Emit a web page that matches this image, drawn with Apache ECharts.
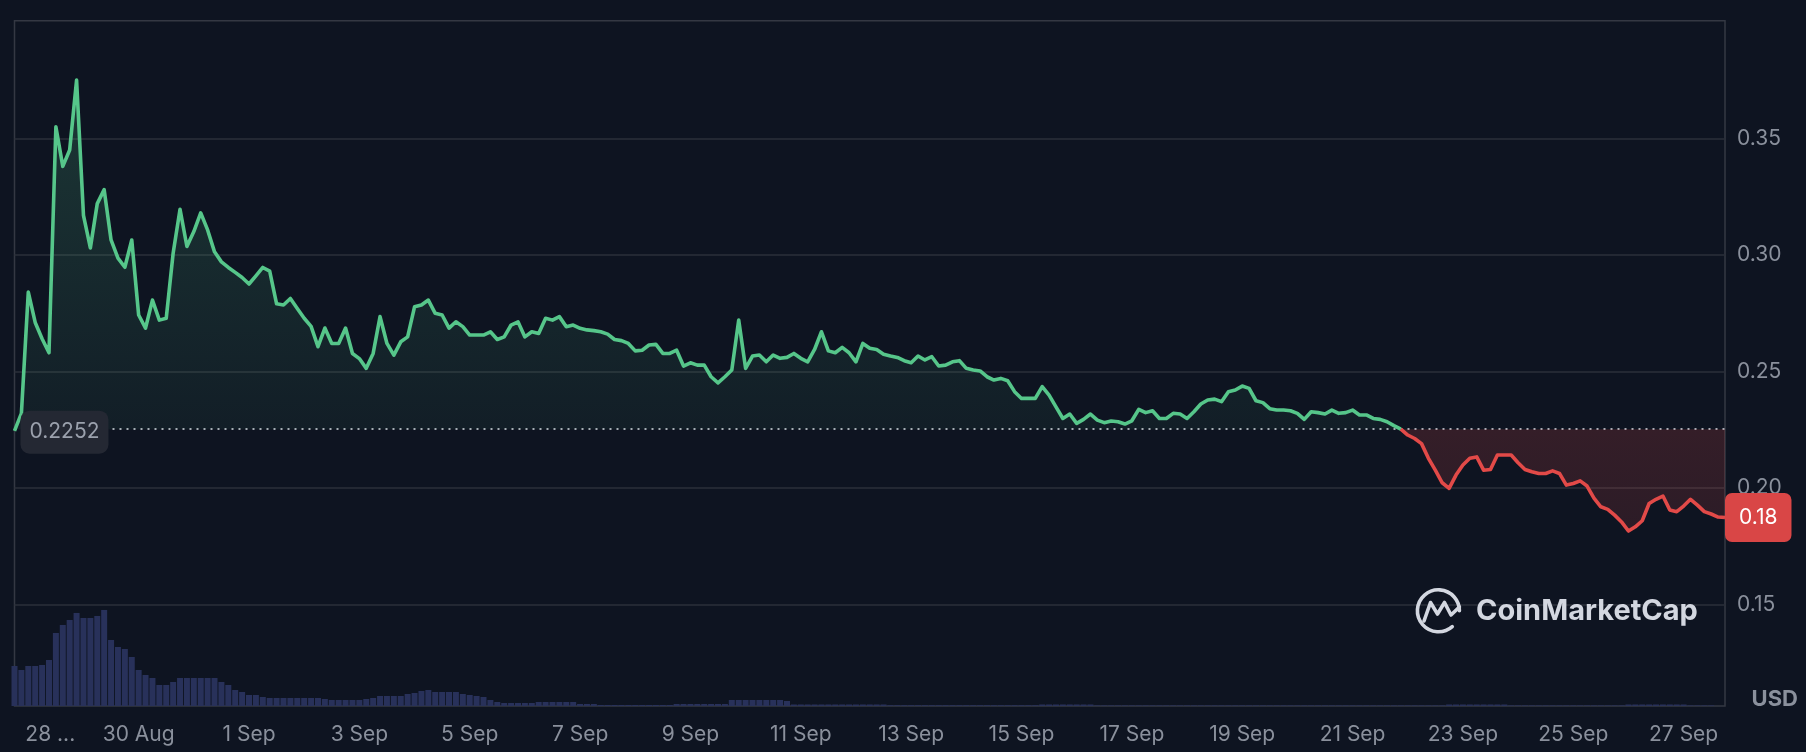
<!DOCTYPE html>
<html><head><meta charset="utf-8">
<script src="https://cdn.jsdelivr.net/npm/echarts@6/dist/echarts.min.js"></script>
<style>html,body{margin:0;padding:0;background:#0e1421;}#c{width:1806px;height:752px;}</style>
</head><body><div id="c"></div>
<script>
// time axis in days from 28 Aug 00:00; samples every 3 hours starting 27 Aug 18:00
const X_START = -0.25;
const X_STEP = 0.125;
const X_END = 30.75;
const BASELINE = 0.2252;
const Y_MIN = 0.1064;
const Y_MAX = 0.4005;
const SPLIT_INDEX = 201;

const prices = [
0.2245,0.232,0.284,0.271,0.264,0.258,0.355,0.338,0.345,0.375,
0.317,0.303,0.322,0.328,0.3064,0.2986,0.2947,0.3064,0.2742,0.2686,
0.2806,0.272,0.2728,0.3007,0.3196,0.3036,0.31,0.318,0.3107,0.3013,
0.297,0.2946,0.2925,0.2903,0.2875,0.291,0.2946,0.293,0.279,0.2785,
0.2813,0.277,0.2728,0.2693,0.2606,0.2686,0.262,0.262,0.2686,0.2577,
0.2555,0.2513,0.2577,0.2735,0.262,0.257,0.2627,0.2648,0.2777,0.2785,
0.2806,0.2749,0.2742,0.2686,0.2713,0.2692,0.2656,0.2656,0.2656,0.267,
0.2637,0.2648,0.2699,0.2713,0.2648,0.267,0.2663,0.2728,0.272,0.2735,
0.2692,0.2699,0.2685,0.2678,0.2675,0.267,0.266,0.2637,0.2632,0.262,
0.2588,0.2591,0.2613,0.2616,0.2577,0.2577,0.2591,0.2523,0.2537,0.2527,
0.2527,0.2477,0.2451,0.2477,0.2506,0.272,0.2513,0.2566,0.257,0.2541,
0.257,0.2556,0.256,0.2577,0.2556,0.2541,0.2594,0.267,0.2588,0.258,
0.2603,0.258,0.2541,0.262,0.2599,0.2594,0.2574,0.2566,0.256,0.2546,
0.2537,0.2566,0.2549,0.2563,0.2523,0.2527,0.2541,0.2546,0.2513,0.2506,
0.2502,0.2477,0.2463,0.247,0.246,0.2413,0.2384,0.2384,0.2384,0.2435,
0.2398,0.2348,0.2298,0.2317,0.2277,0.2294,0.2317,0.2291,0.228,0.2287,
0.2284,0.2274,0.2288,0.2337,0.2323,0.2331,0.2298,0.2298,0.232,0.2317,
0.2298,0.2327,0.236,0.2377,0.2381,0.237,0.2413,0.242,0.2437,0.2427,
0.2374,0.2366,0.234,0.2334,0.2334,0.2331,0.232,0.2294,0.2327,0.2323,
0.2317,0.2334,0.232,0.2323,0.2334,0.2313,0.2313,0.2298,0.2294,0.2284,
0.2267,0.2252,0.2227,0.2212,0.219,0.2127,0.2076,0.2022,0.1998,0.2055,
0.2098,0.2127,0.2133,0.2076,0.2079,0.2141,0.2141,0.2141,0.2108,0.2079,
0.2069,0.2062,0.2062,0.2073,0.2062,0.2012,0.2019,0.203,0.2008,0.1956,
0.1919,0.1908,0.1883,0.1854,0.1815,0.1833,0.1859,0.1933,0.1951,0.1965,
0.1905,0.1898,0.1922,0.1951,0.1926,0.1898,0.1888,0.1875,0.1873
];

// relative trading volume (arbitrary units)
const volumes = [
40,36,40,40,41,46,73,81,86,93,
88,88,90,96,66,59,57,49,36,31,
28,21,21,24,28,28,28,28,28,28,
24,21,16,14,11,11,9,8,8,8,
8,8,8,8,8,7,6,6,6,6,
6,7,8,10,10,10,10,12,13,15,
16,14,14,14,14,12,11,10,9,6,
4,3,3,3,3,3,4,4,4,4,
4,4,2,2,2,1,1,1,1,1,
1,1,1,1,1,1,2,2,2,2,
2,2,2,2,6,6,6,6,6,6,
6,6,5,1.5,1.5,1.5,1.5,1.5,1.5,1.5,
1.5,1.5,1.5,1.5,1.5,1.5,1.5,0.8,0.8,0.8,
0.8,0.8,0.8,0.8,0.8,0.8,0.8,0.8,0.8,0.8,
0.8,0.8,0.8,0.8,0.8,0.8,0.8,0.8,0.8,1.5,
1.5,1.5,1.5,1.5,1.5,1.5,1.5,0.6,0.6,0.6,
0.6,0.6,0.6,0.6,0.6,0.6,0.6,0.6,0.6,0.6,
0.6,0.6,0.6,0.6,0.6,0.6,0.6,0.6,0.6,0.6,
0.6,0.6,0.6,0.6,0.6,0.6,0.6,0.6,0.6,0.6,
0.6,0.6,0.6,0.6,0.6,0.6,0.6,0.6,0.6,0.6,
0.6,0.6,0.6,0.6,0.6,0.6,0.6,0.6,1.5,1.5,
1.5,1.5,1.5,1.5,1.5,1.5,1.5,0.6,0.6,0.6,
0.6,0.6,0.6,0.6,0.6,0.6,0.6,0.6,0.6,0.6,
0.6,0.6,0.6,0.6,1.5,1.5,1.5,1.5,1.5,1.5,
1.5,1.5,1.5,0.6,0.6,0.6,0.6
];

const tickDays = [0,2,4,6,8,10,12,14,16,18,20,22,24,26,28,30];
const tickLabels = ['28 ...','30 Aug','1 Sep','3 Sep','5 Sep','7 Sep','9 Sep','11 Sep','13 Sep','15 Sep','17 Sep','19 Sep','21 Sep','23 Sep','25 Sep','27 Sep'];
const priceTicks = [0.15,0.20,0.25,0.30,0.35];

const GREEN = '#56c68a';
const RED = '#e24a48';
const GRAY = '#8a909c';
const FONT = 'Inter';

const pts = prices.map((v,i)=>[X_START + i*X_STEP, v]);
const greenData = pts.slice(0, SPLIT_INDEX + 1);
const redData = pts.slice(SPLIT_INDEX);
const volData = volumes.map((v,i)=>[X_START + i*X_STEP, v]);
const last = pts[pts.length-1];
const tagText = (Math.floor(last[1]*100)/100).toFixed(2);

const chart = echarts.init(document.getElementById('c'), null, {renderer:'canvas'});
chart.setOption({
  backgroundColor: '#0e1421',
  animation: false,
  textStyle: {fontFamily: FONT},
  grid: {left: 14.5, right: 81, top: 20.7, bottom: 46, show: true, borderColor: '#343843', borderWidth: 1.5, backgroundColor: 'transparent'},
  xAxis: {
    type: 'value', min: X_START, max: X_END,
    axisLine: {show: false}, axisTick: {show: false, customValues: tickDays}, splitLine: {show: false},
    axisLabel: {
      customValues: tickDays, color: GRAY, fontSize: 21, fontFamily: FONT, margin: 18,
      formatter: function(v){
        const idx = tickDays.indexOf(Math.round(v));
        const s = idx >= 0 ? tickLabels[idx] : '';
        return idx === 0 ? '{first|' + s + '}' : s;
      },
      rich: {first: {padding: [0,0,0,44], color: GRAY, fontSize: 21, fontFamily: FONT}}
    }
  },
  yAxis: [{
    type: 'value', position: 'right', min: Y_MIN, max: Y_MAX,
    axisLine: {show: false},
    axisTick: {show: false, customValues: priceTicks},
    splitLine: {show: true, customValues: priceTicks, lineStyle: {color: '#2b2f3a', width: 1.5}},
    axisLabel: {customValues: priceTicks, color: GRAY, fontSize: 21, fontFamily: FONT, margin: 12, formatter: v => v.toFixed(2)}
  },{
    type: 'value', min: 0, max: 685, show: false, splitLine: {show: false}
  }],
  series: [{
    type: 'bar', yAxisIndex: 1, data: volData, barWidth: 6, silent: true, z: 1,
    itemStyle: {color: '#28315a'}
  },{
    type: 'line', data: greenData, showSymbol: false, z: 3, silent: true,
    lineStyle: {color: GREEN, width: 3.6, join: 'round'}, itemStyle: {color: GREEN},
    areaStyle: {origin: BASELINE, color: new echarts.graphic.LinearGradient(0,0,0,1,[
      {offset:0, color:'rgba(86,198,138,0.28)'},{offset:1, color:'rgba(86,198,138,0.08)'}])},
    markLine: {silent: true, symbol: ['none','none'], z: 3, precision: 4,
      lineStyle: {type: [2,5], color: '#a8adb6', width: 2}, label: {show: false},
      data: [{yAxis: BASELINE}]}
  },{
    type: 'line', data: redData, showSymbol: false, z: 4, silent: true,
    lineStyle: {color: RED, width: 3.6, join: 'round'}, itemStyle: {color: RED},
    areaStyle: {origin: BASELINE, color: new echarts.graphic.LinearGradient(0,0,0,1,[
      {offset:0, color:'rgba(226,74,72,0.26)'},{offset:1, color:'rgba(226,74,72,0.2)'}])},
    markPoint: {silent: true, z: 10, symbolSize: 0, precision: 4, data: [
      {coord: [X_START, BASELINE], symbolSize: 0, label: {show: true, position: 'right', distance: 6, offset: [0,3],
        formatter: BASELINE.toFixed(4), color: '#9ba1ad', fontSize: 21, fontFamily: FONT,
        backgroundColor: '#242833', borderRadius: 9, padding: [10,9], lineHeight: 23}},
      {coord: last, symbolSize: 0, label: {show: true, position: 'right', distance: 0,
        formatter: tagText, color: '#ffffff', fontSize: 21, fontFamily: FONT,
        backgroundColor: '#d94646', borderRadius: 7, padding: [13,14], lineHeight: 23}}
    ]}
  }],
  graphic: [
    {type: 'arc', z: 20, shape: {cx: 1438.4, cy: 610.8, r: 21, startAngle: 0.85, endAngle: Math.PI*2, clockwise: true},
      style: {stroke: '#d3d7e0', lineWidth: 3.6, fill: null, lineCap: 'round'}},
    {type: 'polyline', z: 20, shape: {points: [[1424,621],[1430.5,602.5],[1437.5,614],[1444.5,602.5],[1451,615],[1459.4,607]]},
      style: {stroke: '#d3d7e0', lineWidth: 3.6, fill: null, lineJoin: 'round', lineCap: 'round'}},
    {type: 'text', z: 20, x: 1476, y: 611, style: {text: 'CoinMarketCap', font: 'bold 29px Inter', fill: '#d3d7e0', verticalAlign: 'middle'}},
    {type: 'text', z: 20, x: 1798, y: 699, style: {text: 'USD', font: 'bold 22px Inter', fill: GRAY, align: 'right', verticalAlign: 'middle'}}
  ]
});
</script>
</body></html>
